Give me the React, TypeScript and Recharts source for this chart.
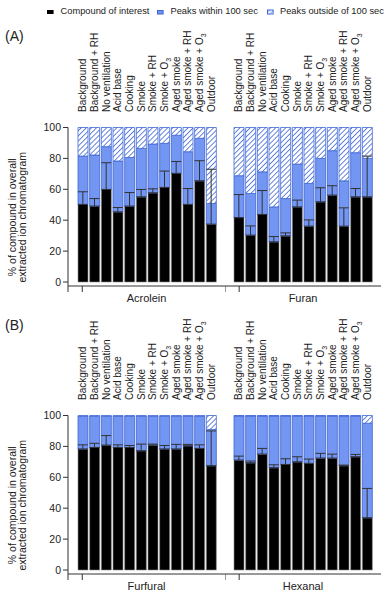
import { ComposedChart, Bar, XAxis, YAxis, Scatter, ErrorBar } from 'recharts';

const conditions = [
  'Background',
  'Background + RH',
  'No ventilation',
  'Acid base',
  'Cooking',
  'Smoke',
  'Smoke + RH',
  'Smoke + O₃',
  'Aged smoke',
  'Aged smoke + RH',
  'Aged smoke + O₃',
  'Outdoor',
];

const groupNames = ['Acrolein', 'Furan', 'Furfural', 'Hexanal'];
const yTicks = [0, 20, 40, 60, 80, 100];

// % of compound in overall extracted ion chromatogram
const acroleinCompound = [50.2, 49.1, 59.9, 45.4, 49.1, 55.1, 57.7, 61.2, 70.3, 50.2, 65.5, 37.4];
const acroleinWithin = [31.3, 33.1, 27.7, 32.9, 31.5, 31.4, 31.6, 28.5, 24.7, 34.1, 27.5, 13.4];
const acroleinOutside = [18.5, 17.8, 12.4, 21.7, 19.4, 13.5, 10.7, 10.3, 5, 15.7, 7, 49.2];
const acroleinError = [8.2, 4.9, 17.3, 2.8, 8.8, 4.8, 2.6, 10.6, 7.7, 10.3, 13, 35.6];

const furanCompound = [41.7, 30.3, 43.7, 26, 29.8, 48.6, 36.1, 51.9, 56.2, 36.1, 55.1, 55.1];
const furanWithin = [27.1, 27, 27.6, 22.6, 24.2, 27.7, 27.7, 28.1, 28.8, 29.4, 28.6, 24.9];
const furanOutside = [31.2, 42.7, 28.7, 51.4, 46, 23.7, 36.2, 20, 15, 34.5, 16.3, 20];
const furanError = [14.9, 6, 15.5, 3.4, 2, 4.4, 4.1, 9.1, 6.1, 11.9, 5.4, 26.4];

const furfuralCompound = [78.3, 79.3, 80.8, 79.3, 79.3, 77.2, 80.8, 78.3, 78.3, 80.4, 78.7, 67.5];
const furfuralWithin = [21.3, 20.3, 18.8, 20.3, 20.3, 22.4, 18.8, 21.3, 21.3, 19.2, 20.9, 23.5];
const furfuralOutside = [0.3, 0.3, 0.3, 0.3, 0.3, 0.3, 0.3, 0.3, 0.3, 0.3, 0.3, 9];
const furfuralError = [2.7, 2.7, 6.2, 1.7, 1.3, 4.3, 0.7, 2.3, 3, 0.9, 2.3, 22.5];

const hexanalCompound = [71.1, 69.4, 75, 66.2, 68.3, 70, 69, 72.4, 72.4, 67.5, 73.3, 33.8];
const hexanalWithin = [28.6, 30.3, 24.7, 33.5, 31.4, 29.7, 30.7, 27.3, 27.3, 32.2, 26.4, 61.2];
const hexanalOutside = [0.3, 0.3, 0.3, 0.3, 0.3, 0.3, 0.3, 0.3, 0.3, 0.3, 0.3, 5];
const hexanalError = [2.6, 1.1, 3.7, 1.9, 3.7, 3.3, 2.8, 3.1, 2.6, 0.4, 1.5, 19];

const FONT = '"Liberation Sans", Arial, Helvetica, sans-serif';
const BLUE = '#7296f2';
const BLUE_EDGE = '#3f63d3';
const HATCH = '#4068d6';
const INK = '#222';

function makeRows(compound: number[], within: number[], outside: number[], error: number[]) {
  return conditions.map((c, i) => ({
    cond: c,
    compound: compound[i],
    within: within[i],
    outside: outside[i],
    err: [0, error[i]],
  }));
}

const ConditionTick = (props: any) => {
  const { x, y, payload } = props;
  const label: string = payload.value;
  const sub = label.endsWith('₃');
  const text = sub ? label.slice(0, -1) : label;
  return (
    <text
      transform={`translate(${x},${y}) rotate(-90)`}
      textAnchor="start"
      dy="0.36em"
      fontSize={10}
      fill={INK}
      fontFamily={FONT}
    >
      {text}
      {sub && (
        <tspan fontSize={7} dy={2.5}>
          3
        </tspan>
      )}
    </text>
  );
};

// only the two ends of each group bracket get a tick mark
const BracketTick = (props: any) => {
  const { x, y, payload } = props;
  if (payload.value !== 0 && payload.value !== 1) return <g />;
  return <line x1={x} x2={x} y1={y} y2={y + 6} stroke="#333" strokeWidth={1} />;
};

const YTitle = (props: any) => {
  const vb = props.viewBox || { y: 0, height: 0 };
  const cy = vb.y + vb.height / 2 + 10.5;
  return (
    <g fontFamily={FONT} fontSize={10.5} fill={INK}>
      <text x={11.5} y={cy} transform={`rotate(-90, 11.5, ${cy})`} textAnchor="middle" dominantBaseline="central">
        % of compound in overall
      </text>
      <text x={22} y={cy} transform={`rotate(-90, 22, ${cy})`} textAnchor="middle" dominantBaseline="central">
        extracted ion chromatogram
      </text>
    </g>
  );
};

const EmptyDot = () => <g />;

interface PanelProps {
  id: string;
  name: string;
  rows: ReturnType<typeof makeRows>;
  left: number;
  top: number;
  first: boolean;
}

const Panel = ({ id, name, rows, left, top, first }: PanelProps) => {
  const width = first ? 230 : 160;
  return (
    <div style={{ position: 'absolute', left, top }}>
      <ComposedChart
        width={width}
        height={286}
        data={rows}
        margin={{ top: 0, right: first ? 5 : 4, left: 0, bottom: 0 }}
      >
        <defs>
          <pattern id={id} patternUnits="userSpaceOnUse" width={3.6} height={3.6} patternTransform="rotate(45)">
            <rect width={3.6} height={3.6} fill="#fff" />
            <line x1={0} y1={0} x2={0} y2={3.6} stroke={HATCH} strokeWidth={1.6} />
          </pattern>
        </defs>
        {first && (
          <YAxis
            yAxisId="pad"
            width={5}
            type="number"
            domain={[0, 100]}
            allowDataOverflow
            axisLine={false}
            tickLine={false}
            tick={false}
          />
        )}
        <YAxis
          yAxisId="main"
          hide={!first}
          width={63}
          type="number"
          domain={[0, 100]}
          ticks={yTicks}
          padding={{ bottom: 4, top: 0 }}
          tickSize={5}
          tickMargin={2}
          axisLine={{ stroke: '#333' }}
          tickLine={{ stroke: '#333' }}
          tick={{ fontSize: 10.5, fill: INK, fontFamily: FONT }}
          label={YTitle}
        />
        <XAxis
          xAxisId="cat"
          dataKey="cond"
          orientation="top"
          height={107.5}
          interval={0}
          padding={{ left: first ? 9 : 8, right: 8 }}
          axisLine={false}
          tickLine={false}
          tickSize={0}
          tickMargin={15.5}
          tick={ConditionTick}
        />
        <XAxis
          xAxisId="grp"
          type="number"
          orientation="bottom"
          domain={[0, 1]}
          ticks={[0, 1]}
          interval={0}
          allowDataOverflow
          height={20}
          tickSize={0}
          tickMargin={0}
          tickLine={false}
          tick={BracketTick}
          axisLine={{ stroke: '#333' }}
          label={(p: any) => {
            const vb = p.viewBox || { x: 0, y: 0, width: 0 };
            return (
              <text x={vb.x + vb.width / 2} y={vb.y + 15.5} textAnchor="middle" fontSize={11} fill={INK} fontFamily={FONT}>
                {name}
              </text>
            );
          }}
        />
        <Bar
          xAxisId="cat"
          yAxisId="main"
          dataKey="compound"
          stackId="s"
          fill="#000"
          stroke="#8a8a8a"
          strokeWidth={0.6}
          barSize={10}
          isAnimationActive={false}
        />
        <Bar
          xAxisId="cat"
          yAxisId="main"
          dataKey="within"
          stackId="s"
          fill={BLUE}
          stroke={BLUE_EDGE}
          strokeWidth={0.8}
          barSize={10}
          isAnimationActive={false}
        />
        <Bar
          xAxisId="cat"
          yAxisId="main"
          dataKey="outside"
          stackId="s"
          fill={`url(#${id})`}
          stroke={HATCH}
          strokeWidth={0.8}
          barSize={10}
          isAnimationActive={false}
        />
        <Scatter xAxisId="cat" yAxisId="main" dataKey="compound" shape={EmptyDot} isAnimationActive={false}>
          <ErrorBar dataKey="err" direction="y" width={5} stroke="#333" strokeWidth={1} />
        </Scatter>
      </ComposedChart>
    </div>
  );
};

const LegendKey = ({ left, kind, text, textLeft }: { left: number; kind: string; text: string; textLeft: number }) => (
  <>
    <svg style={{ position: 'absolute', left, top: 9 }} width={7} height={6}>
      <defs>
        <pattern id="legend-hatch" patternUnits="userSpaceOnUse" width={2.5} height={2.5} patternTransform="rotate(45)">
          <rect width={2.5} height={2.5} fill="#fff" />
          <line x1={0} y1={0} x2={0} y2={2.5} stroke={HATCH} strokeWidth={1} />
        </pattern>
      </defs>
      {kind === 'black' && <rect x={0} y={1} width={6.6} height={4} fill="#000" />}
      {kind === 'blue' && <rect x={0.5} y={1.5} width={5.6} height={3.5} fill={BLUE} stroke={BLUE_EDGE} strokeWidth={1} />}
      {kind === 'hatch' && <rect x={0.5} y={1} width={5.6} height={4} fill="url(#legend-hatch)" stroke={HATCH} strokeWidth={1} />}
    </svg>
    <span style={{ position: 'absolute', left: textLeft, top: 5, fontSize: 9.3, lineHeight: '12px', color: INK, whiteSpace: 'nowrap' }}>
      {text}
    </span>
  </>
);

export default function App() {
  return (
    <div
      style={{
        position: 'absolute',
        left: 0,
        top: 0,
        width: 390,
        height: 594,
        overflow: 'hidden',
        background: '#fff',
        fontFamily: FONT,
      }}
    >
      <LegendKey left={46.5} kind="black" text="Compound of interest" textLeft={60.5} />
      <LegendKey left={156.5} kind="blue" text="Peaks within 100 sec" textLeft={170.5} />
      <LegendKey left={266.5} kind="hatch" text="Peaks outside of 100 sec" textLeft={280} />

      <div style={{ position: 'absolute', left: 5, top: 28, fontSize: 14, color: INK }}>(A)</div>
      <div style={{ position: 'absolute', left: 5, top: 317, fontSize: 14, color: INK }}>(B)</div>

      <Panel id="hatch-a1" name={groupNames[0]} rows={makeRows(acroleinCompound, acroleinWithin, acroleinOutside, acroleinError)} left={0} top={20} first />
      <Panel id="hatch-a2" name={groupNames[1]} rows={makeRows(furanCompound, furanWithin, furanOutside, furanError)} left={225} top={20} first={false} />
      <Panel id="hatch-b1" name={groupNames[2]} rows={makeRows(furfuralCompound, furfuralWithin, furfuralOutside, furfuralError)} left={0} top={308} first />
      <Panel id="hatch-b2" name={groupNames[3]} rows={makeRows(hexanalCompound, hexanalWithin, hexanalOutside, hexanalError)} left={225} top={308} first={false} />
    </div>
  );
}
